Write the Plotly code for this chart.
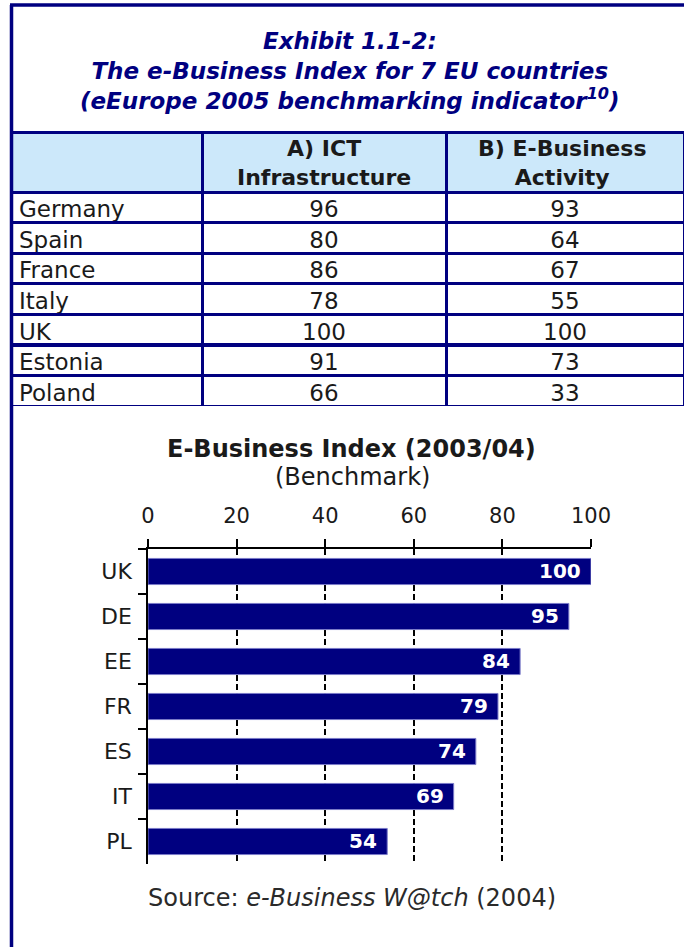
import plotly.graph_objects as go

W, H = 684, 947
NAVY = "#000080"
FONT = "DejaVu Sans, Verdana, sans-serif"
TXT = "#1a1a1a"

# ---- table data ----
countries = ["Germany", "Spain", "France", "Italy", "UK", "Estonia", "Poland"]
ict_infra = [96, 80, 86, 78, 100, 91, 66]
eb_activity = [93, 64, 67, 55, 100, 73, 33]
header_top = ["", "A) ICT", "B) E-Business"]
header_bottom = ["", "Infrastructure", "Activity"]

# ---- bar chart data ----
codes = ["UK", "DE", "EE", "FR", "ES", "IT", "PL"]
index_values = [100, 95, 84, 79, 74, 69, 54]
x_ticks = [0, 20, 40, 60, 80, 100]


def fx(page_x):
    return page_x / W


def fy(page_y):
    return 1 - page_y / H


col_edges = [11, 202, 446, 684]
col_widths = [col_edges[i + 1] - col_edges[i] for i in range(3)]

fig = go.Figure()

fig.add_trace(go.Table(
    domain=dict(x=[fx(11), 1.0], y=[fy(406), fy(132)]),
    columnwidth=col_widths,
    header=dict(
        values=["", "", ""],
        fill_color="#CCE8FA",
        line=dict(color=NAVY, width=3),
        height=60,
        font=dict(family=FONT, size=22, color=TXT),
    ),
    cells=dict(
        values=[countries, ict_infra, eb_activity],
        fill_color="white",
        line=dict(color=NAVY, width=3),
        align=["left", "center", "center"],
        height=30.6,
        font=dict(family=FONT, size=23, color=TXT),
    ),
))

# header labels (centred line by line)
for i in range(3):
    cx = (col_edges[i] + col_edges[i + 1]) / 2
    if i == 2:
        cx = 562
    if header_top[i]:
        fig.add_annotation(text="<b>" + header_top[i] + "</b><br><b>" + header_bottom[i] + "</b>",
                           xref="paper", yref="paper",
                           x=fx(cx), y=fy(163), xanchor="center", yanchor="middle",
                           align="center", showarrow=False,
                           font=dict(family=FONT, size=22, color=TXT))

fig.add_trace(go.Bar(
    x=index_values,
    y=codes,
    orientation="h",
    marker=dict(color=NAVY, line=dict(color="#7a7ac8", width=1)),
    width=0.58,
    hoverinfo="skip",
))

# value labels inside the bar ends
for code, v in zip(codes, index_values):
    fig.add_annotation(x=v, y=code, xref="x", yref="y", text="<b>%d</b>" % v,
                       xanchor="right", yanchor="middle", xshift=-8, yshift=1,
                       showarrow=False,
                       font=dict(family=FONT, size=20, color="white"))

fig.update_layout(
    width=W, height=H,
    autosize=False,
    margin=dict(l=0, r=0, t=0, b=0),
    paper_bgcolor="white",
    plot_bgcolor="white",
    showlegend=False,
    font=dict(family=FONT, color=TXT),
    xaxis=dict(
        domain=[fx(148), fx(591)],
        range=[0, 100],
        side="top",
        tickvals=x_ticks,
        ticks="outside", ticklen=8, tickwidth=1.5, tickcolor="black",
        ticklabelstandoff=8,
        tickfont=dict(family=FONT, size=21, color=TXT),
        showline=True, linecolor="black", linewidth=1.5,
        showgrid=True, gridcolor="black", griddash="6px,3px", gridwidth=1.5,
        zeroline=False,
        automargin=False,
        anchor="y",
        fixedrange=True,
    ),
    yaxis=dict(
        domain=[fy(864), fy(549)],
        categoryorder="array",
        categoryarray=codes,
        autorange="reversed",
        ticks="outside", ticklen=8, tickwidth=1.5, tickcolor="black",
        tickson="boundaries",
        tickfont=dict(family=FONT, size=22, color=TXT),
        showline=True, linecolor="black", linewidth=1.5,
        showgrid=False,
        ticklabelstandoff=10,
        automargin=False,
        fixedrange=True,
    ),
)

# frame
fig.add_shape(type="line", xref="paper", yref="paper",
              x0=fx(11.5), x1=fx(11.5), y0=0, y1=fy(5),
              line=dict(color=NAVY, width=3.5))
fig.add_shape(type="line", xref="paper", yref="paper",
              x0=fx(10), x1=1, y0=fy(5), y1=fy(5),
              line=dict(color=NAVY, width=3.5))

# title block (one text, three lines)
title_lines = [
    "Exhibit 1.1-2:",
    "The e-Business Index for 7 EU countries",
    "(eEurope 2005 benchmarking indicator<sup>10</sup>)",
]
fig.add_annotation(text="<br>".join("<b><i>%s</i></b>" % t for t in title_lines),
                   xref="paper", yref="paper",
                   x=fx(350), y=fy(71), xanchor="center", yanchor="middle",
                   align="center", showarrow=False,
                   font=dict(family=FONT, size=23, color=NAVY))

# chart title
fig.add_annotation(text="<b>E-Business Index (2003/04)</b>", xref="paper", yref="paper",
                   x=fx(351), y=fy(449), xanchor="center", yanchor="middle",
                   showarrow=False, font=dict(family=FONT, size=24, color=TXT))
fig.add_annotation(text="(Benchmark)", xref="paper", yref="paper",
                   x=fx(352), y=fy(477), xanchor="center", yanchor="middle",
                   showarrow=False, font=dict(family=FONT, size=24, color=TXT))

# source
fig.add_annotation(text="Source: <i>e-Business W@tch</i> (2004)", xref="paper", yref="paper",
                   x=fx(352), y=fy(898), xanchor="center", yanchor="middle",
                   showarrow=False, font=dict(family=FONT, size=24, color="#2a2a2a"))

fig.write_html(
    "out.html",
    config={"displayModeBar": False},
    post_script="document.body.style.margin='0';document.body.style.overflow='hidden';",
)
